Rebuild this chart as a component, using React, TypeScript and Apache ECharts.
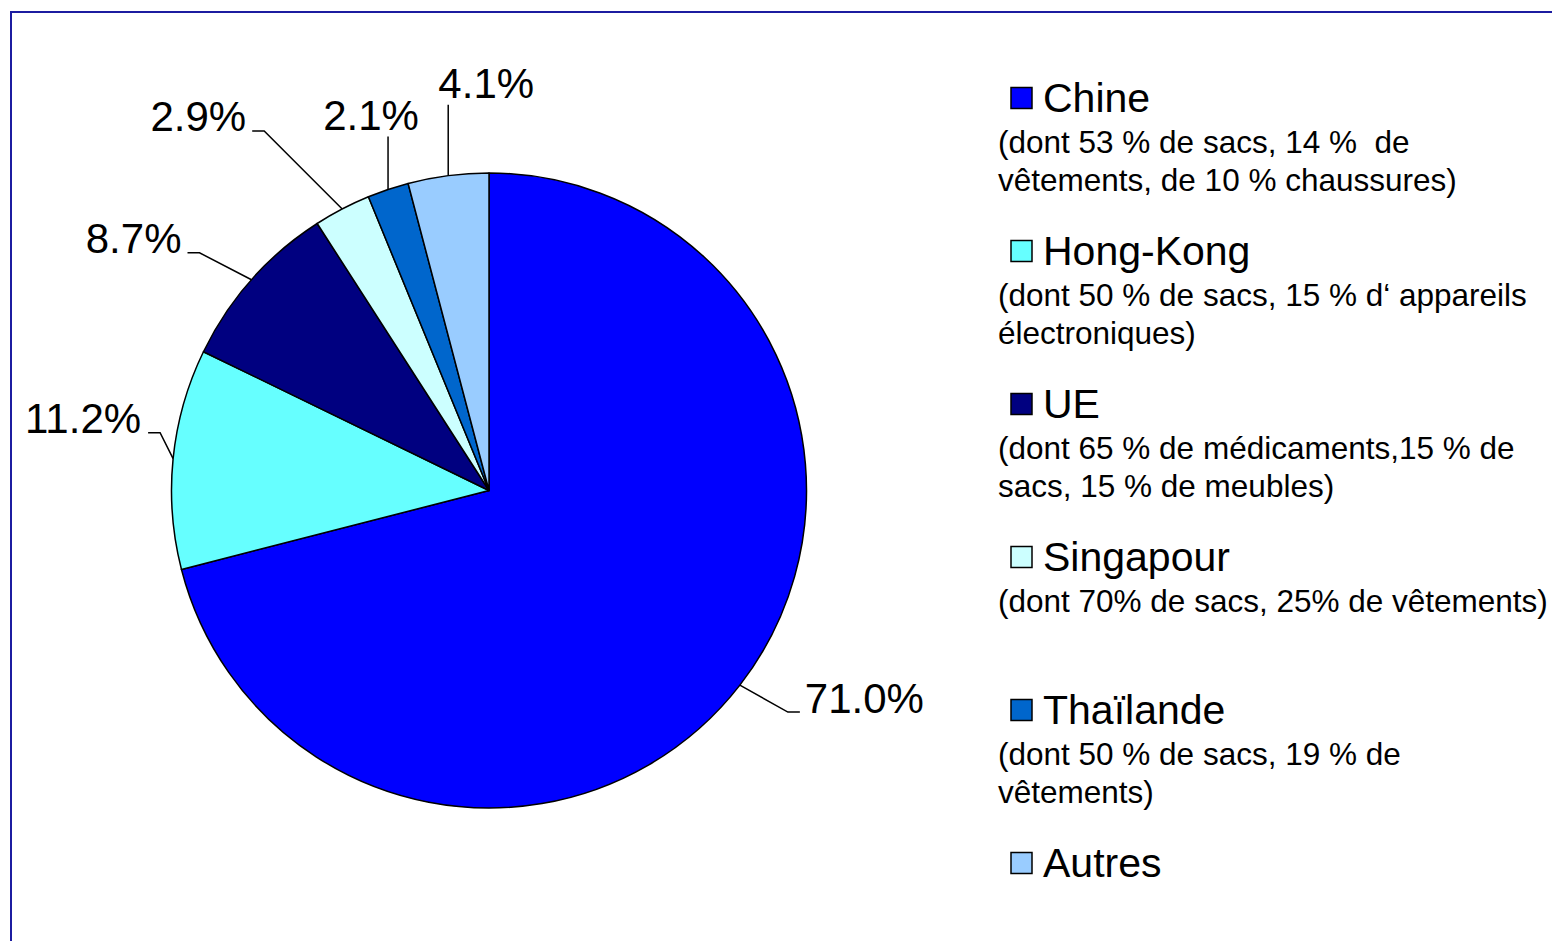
import React, { useEffect, useRef } from 'react';
import * as echarts from 'echarts';

const categories = ['Chine', 'Hong-Kong', 'UE', 'Singapour', 'Thaïlande', 'Autres'];
const values = [71.0, 11.2, 8.7, 2.9, 2.1, 4.1];
const colors = ['#0000FF', '#66FFFF', '#000080', '#CCFFFF', '#0066CC', '#99CCFF'];
const details: string[][] = [
  ['(dont 53 % de sacs, 14 %  de', 'vêtements, de 10 % chaussures)'],
  ['(dont 50 % de sacs, 15 % d\u2018 appareils', 'électroniques)'],
  ['(dont 65 % de médicaments,15 % de', 'sacs, 15 % de meubles)'],
  ['(dont 70% de sacs, 25% de vêtements)'],
  ['(dont 50 % de sacs, 19 % de', 'vêtements)'],
  [],
];

const FONT = "'Liberation Sans', Arial, Helvetica, sans-serif";

// leader line geometry: offsets from the slice edge anchor given by ECharts
const leaders: { elbow: number[]; end: number[]; label: number[]; align: string }[] = [
  { elbow: [48, 27], end: [60, 27], label: [65, 13], align: 'left' },
  { elbow: [-13, -26], end: [-25, -26], label: [-32, -40], align: 'right' },
  { elbow: [-52, -27], end: [-64, -27], label: [-70, -41], align: 'right' },
  { elbow: [-78, -78], end: [-90, -78], label: [-96, -92], align: 'right' },
  { elbow: [0, -53], end: [0, -53], label: [-17, -74], align: 'center' },
  { elbow: [0, -71], end: [0, -71], label: [38, -92], align: 'center' },
];

export default function App() {
  const ref = useRef<HTMLDivElement>(null);
  useEffect(() => {
    if (!ref.current) return;
    const chart = echarts.init(ref.current, undefined, { renderer: 'svg' });

    const graphics: any[] = [
      {
        type: 'rect',
        shape: { x: 11, y: 12, width: 1700, height: 1100 },
        style: { fill: 'none', stroke: '#1c1ca0', lineWidth: 2 },
        silent: true,
      },
    ];
    categories.forEach((name, i) => {
      const cy = 98 + i * 153;
      graphics.push({
        type: 'rect',
        shape: { x: 1011, y: cy - 10.5, width: 21, height: 21 },
        style: { fill: colors[i], stroke: '#000', lineWidth: 1.5 },
      });
      graphics.push({
        type: 'text',
        x: 1043,
        y: cy,
        style: {
          text: name,
          fontSize: 41,
          fontFamily: FONT,
          fill: '#000',
          verticalAlign: 'middle',
          align: 'left',
        },
      });
      details[i].forEach((line, j) => {
        graphics.push({
          type: 'text',
          x: 998,
          y: cy + 44 + j * 38,
          style: {
            text: line,
            fontSize: 31.5,
            fontFamily: FONT,
            fill: '#000',
            verticalAlign: 'middle',
            align: 'left',
          },
        });
      });
    });

    chart.setOption({
      animation: false,
      backgroundColor: '#fff',
      graphic: graphics,
      series: [
        {
          type: 'pie',
          center: [489, 490.5],
          radius: 317.5,
          startAngle: 90,
          clockwise: true,
          avoidLabelOverlap: false,
          data: categories.map((name, i) => ({
            name,
            value: values[i],
            itemStyle: { color: colors[i] },
          })),
          itemStyle: { borderColor: '#000', borderWidth: 1.5 },
          label: {
            show: true,
            position: 'outside',
            formatter: (p: any) => p.value.toFixed(1) + '%',
            fontSize: 42,
            fontFamily: FONT,
            color: '#000',
          },
          labelLine: {
            show: true,
            length: 20,
            length2: 10,
            lineStyle: { color: '#000', width: 1.5 },
          },
          labelLayout: (params: any) => {
            const l = leaders[params.dataIndex];
            const a = params.labelLinePoints ? params.labelLinePoints[0] : [0, 0];
            return {
              x: a[0] + l.label[0],
              y: a[1] + l.label[1],
              align: l.align,
              verticalAlign: 'middle',
              labelLinePoints: [
                [a[0], a[1]],
                [a[0] + l.elbow[0], a[1] + l.elbow[1]],
                [a[0] + l.end[0], a[1] + l.end[1]],
              ],
            };
          },
          emphasis: { disabled: true },
        },
      ],
    });
    return () => chart.dispose();
  }, []);
  return (
    <div
      ref={ref}
      style={{ position: 'absolute', left: 0, top: 0, width: 1552, height: 941 }}
    />
  );
}
